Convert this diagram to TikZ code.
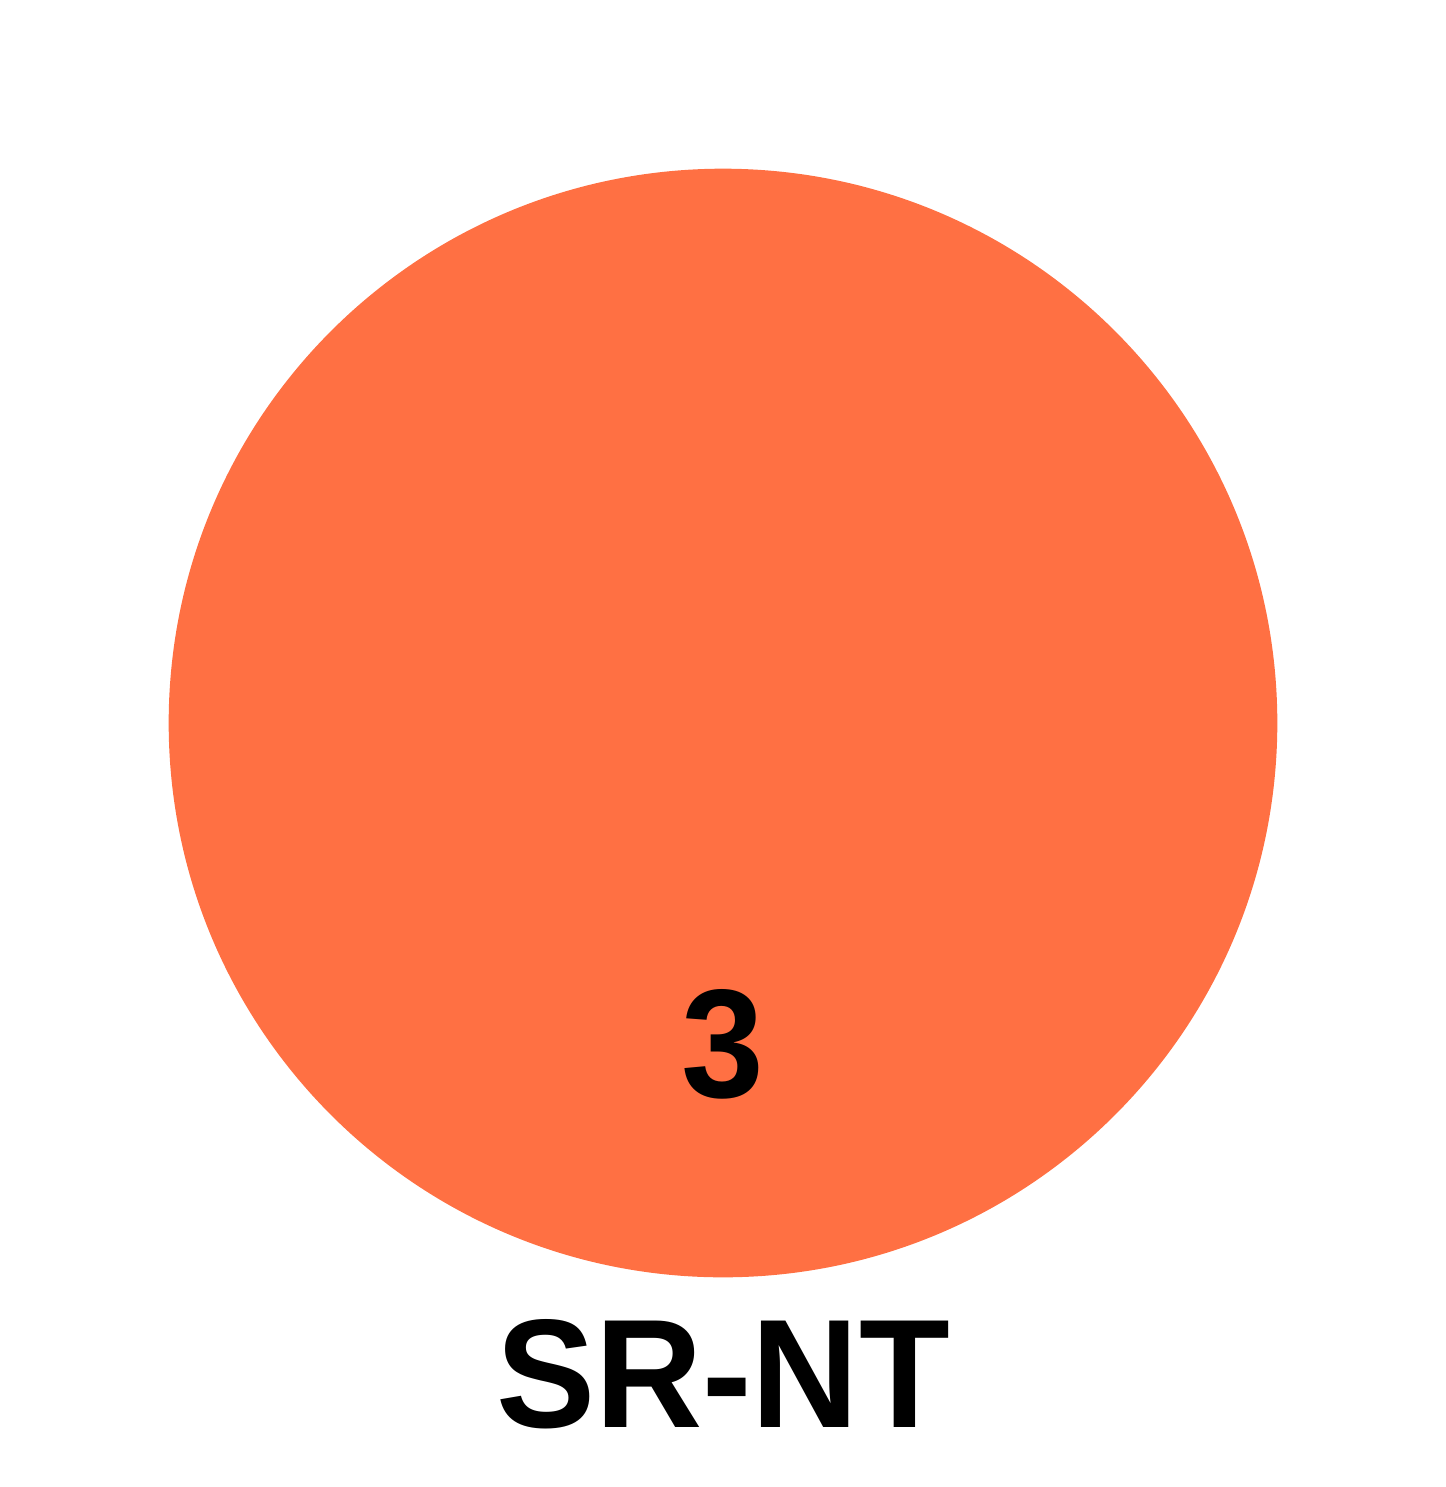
\documentclass[tikz,border=0pt]{standalone}
\usepackage{fontspec}
\setmainfont{Liberation Sans}
\definecolor{setorange}{RGB}{255, 112, 67}
\usetikzlibrary{positioning}
\tikzset{settext/.style={anchor=base,font=\fontsize{44}{48}\selectfont\bfseries,inner sep=0pt,xscale=0.96}}

\begin{document}
\begin{tikzpicture}[x=0.01cm, y=-0.01cm]
        \useasboundingbox (0,0) rectangle (1446,1487);
        \node[circle,fill=setorange,inner sep=0pt,minimum size=11.08cm] (set) at (723,723) {};
        \node[settext] (count) at (723,1097) {3};
        \node[settext] (name) at (723,1427) {SR-NT};
      \end{tikzpicture}
\end{document}
